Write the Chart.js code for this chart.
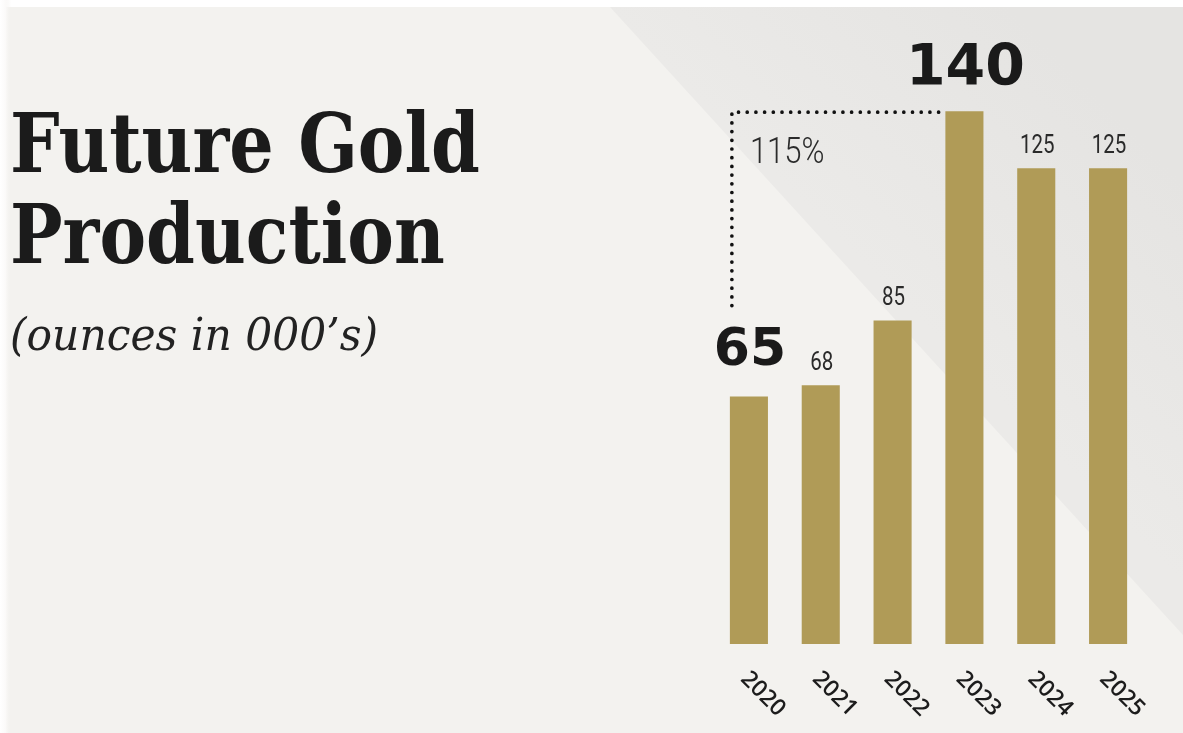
<!DOCTYPE html>
<html lang="en">
<head>
<meta charset="UTF-8" />
<title>Future Gold Production</title>
<script src="https://cdn.jsdelivr.net/npm/chart.js"></script>
<style>
  html, body { margin: 0; padding: 0; background: #f3f2ef; }
  #wrap { position: relative; width: 1183px; height: 733px; overflow: hidden; }
  #wrap canvas { position: absolute; left: 0; top: 0; }
  .title {
    position: absolute; left: 10px; top: 98px;
    font-family: "DejaVu Serif", serif; font-weight: bold;
    font-size: 82px; line-height: 91px; color: #1b1b1b;
    white-space: nowrap; transform-origin: 0 0;
  }
  .sub {
    position: absolute; left: 10px; top: 308px;
    font-family: "DejaVu Serif", serif; font-style: italic;
    font-size: 44px; line-height: 54px; color: #222;
    white-space: nowrap; transform-origin: 0 0;
  }
</style>
</head>
<body>
<div id="wrap">
  <canvas id="goldChart" width="1183" height="733"></canvas>
  <div class="title" id="title"><span id="t1">Future Gold</span><br><span>Production</span></div>
  <div class="sub" id="sub">(ounces in 000’s)</div>
</div>
<script>
  const years = ['2020', '2021', '2022', '2023', '2024', '2025'];
  const ounces = [65, 68, 85, 140, 125, 125];
  // bars whose value gets the big bold label
  const featured = [0, 3];
  const barColor = '#b09b57';

  // squeeze the serif headings to the column width
  const fitWidth = (el, inner, width) => {
    const w = inner.getBoundingClientRect().width;
    el.style.transform = `scaleX(${width / w})`;
  };
  fitWidth(document.getElementById('title'), document.getElementById('t1'), 470);
  fitWidth(document.getElementById('sub'), document.getElementById('sub'), 368);

  const backdrop = {
    id: 'backdrop',
    beforeDraw(chart) {
      const { ctx, width, height } = chart;
      ctx.save();
      ctx.fillStyle = '#f3f2ef';
      ctx.fillRect(0, 0, width, height);
      // darker wedge in the upper right corner
      const g = ctx.createLinearGradient(900, 300, 1100, 100);
      g.addColorStop(0, '#ebeae8');
      g.addColorStop(1, '#e5e4e2');
      ctx.fillStyle = g;
      ctx.beginPath();
      ctx.moveTo(610, 7);
      ctx.lineTo(width, 7);
      ctx.lineTo(width, 635);
      ctx.closePath();
      ctx.fill();
      // white margin along the top and left edges
      ctx.fillStyle = '#ffffff';
      ctx.fillRect(0, 0, width, 7);
      const edge = ctx.createLinearGradient(0, 0, 11, 0);
      edge.addColorStop(0, '#ffffff');
      edge.addColorStop(0.5, '#fbfaf9');
      edge.addColorStop(1, 'rgba(243,242,239,0)');
      ctx.fillStyle = edge;
      ctx.fillRect(0, 0, 11, height);
      ctx.restore();
    }
  };

  const annotate = {
    id: 'annotate',
    afterDatasetsDraw(chart) {
      const { ctx, scales: { y } } = chart;
      const bars = chart.getDatasetMeta(0).data;
      ctx.save();

      // value labels
      bars.forEach((bar, i) => {
        ctx.fillStyle = '#1a1a1a';
        ctx.textAlign = 'center';
        ctx.textBaseline = 'alphabetic';
        if (featured.includes(i)) {
          const big = i === 0 ? 52 : 57;
          ctx.font = `bold ${big}px "DejaVu Sans", sans-serif`;
          ctx.fillText(String(ounces[i]), bar.x + 1, bar.y - (i === 0 ? 32 : 26));
        } else {
          ctx.save();
          ctx.translate(bar.x + 1, bar.y - 15);
          ctx.scale(0.82, 1);
          ctx.fillStyle = '#2a2a2a';
          ctx.font = '25px Roboto, sans-serif';
          ctx.fillText(String(ounces[i]), 0, 0);
          ctx.restore();
        }
      });

      // dotted bracket from first year up to the peak
      const first = bars[featured[0]];
      const peak = bars[featured[1]];
      const x0 = first.x - first.width / 2 + 2;
      const yTop = y.getPixelForValue(ounces[featured[1]]) + 1;
      const yLow = y.getPixelForValue(ounces[featured[0]]) - 91;
      const x1 = peak.x - peak.width / 2;
      ctx.strokeStyle = '#111';
      ctx.lineWidth = 3.7;
      ctx.lineCap = 'round';
      ctx.setLineDash([0, 8.7]);
      ctx.beginPath();
      ctx.moveTo(x0, yLow);
      ctx.lineTo(x0, yTop);
      ctx.lineTo(x1, yTop);
      ctx.stroke();
      ctx.setLineDash([]);

      // growth between the two featured years
      const growth = Math.round((ounces[featured[1]] - ounces[featured[0]]) / ounces[featured[0]] * 100);
      ctx.save();
      ctx.translate(x0 + 18, yTop + 51);
      ctx.scale(0.84, 1);
      ctx.fillStyle = '#2b2b2b';
      ctx.textAlign = 'left';
      ctx.font = '300 37px Roboto, sans-serif';
      ctx.fillText(growth + '%', 0, 0);
      ctx.restore();

      // slanted year labels under the bars
      bars.forEach((bar, i) => {
        ctx.save();
        ctx.translate(bar.x + 14, bar.base + 50);
        ctx.rotate(Math.PI / 4);
        ctx.fillStyle = '#1c1c1c';
        ctx.textAlign = 'center';
        ctx.textBaseline = 'middle';
        ctx.font = '600 23px "Open Sans", sans-serif';
        ctx.fillText(years[i], 0, 0);
        ctx.restore();
      });

      ctx.restore();
    }
  };

  new Chart(document.getElementById('goldChart'), {
    type: 'bar',
    data: {
      labels: years,
      datasets: [{
        data: ounces,
        backgroundColor: barColor,
        borderWidth: 0,
        barPercentage: 0.53,
        categoryPercentage: 1.0
      }]
    },
    options: {
      responsive: false,
      devicePixelRatio: 1,
      animation: false,
      layout: { padding: { left: 713, right: 39, top: 35, bottom: 89 } },
      scales: {
        x: { display: false },
        y: { display: false, min: 0, max: 160 }
      },
      plugins: { legend: { display: false }, tooltip: { enabled: false } }
    },
    plugins: [backdrop, annotate]
  });
</script>
</body>
</html>
